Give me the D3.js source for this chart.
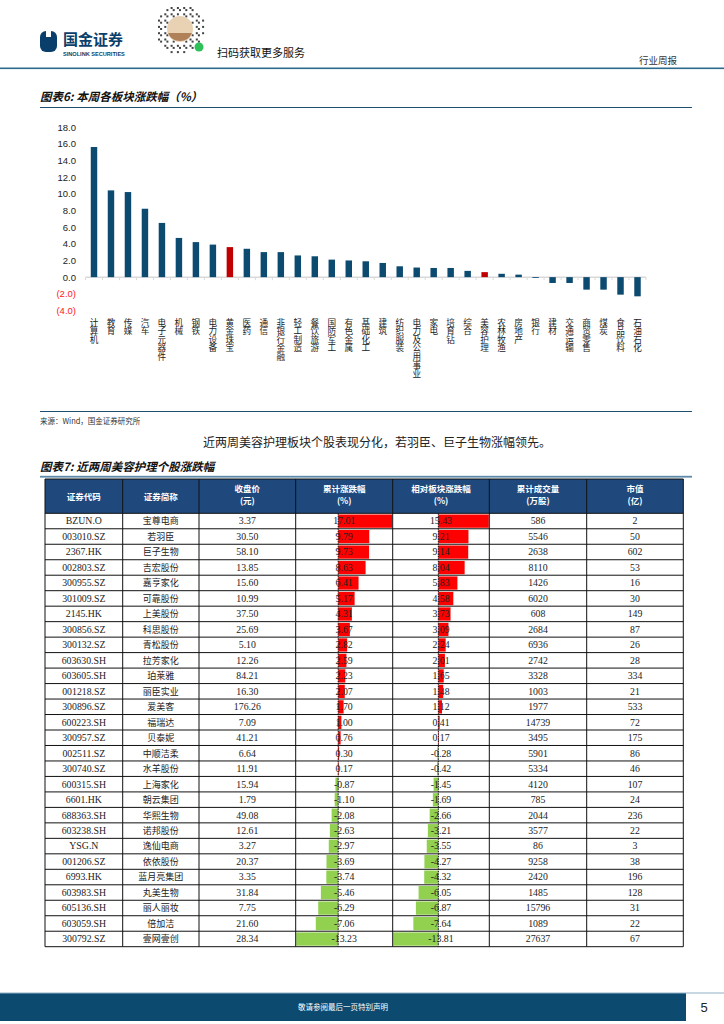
<!DOCTYPE html>
<html>
<head>
<meta charset="utf-8">
<script src="https://cdn.jsdelivr.net/npm/d3@7"></script>
<style>
  body { margin: 0; background: #fff; }
  svg { display: block; }
</style>
</head>
<body>
<svg id="page" width="724" height="1024"></svg>
<script>
// ---- chart 6 data: weekly sector change (%)
var sectors = ["计算机", "教育", "传媒", "汽车", "电子元器件", "机械", "钢铁", "电力设备", "黄金珠宝", "医药",
  "通信", "非银行金融", "轻工制造", "餐饮旅游", "国防军工", "有色金属", "基础化工", "建筑", "纺织服装",
  "电力及公用事业", "家电", "培育钻", "综合", "美容护理", "农林牧渔", "房地产", "银行", "建材", "交通运输",
  "商贸零售", "煤炭", "食品饮料", "石油石化"];
var sectorChg = [15.6, 10.4, 10.2, 8.2, 6.5, 4.7, 4.2, 3.9, 3.6, 3.4,
  3.0, 3.0, 2.6, 2.5, 2.1, 2.0, 1.9, 1.7, 1.3,
  1.15, 1.1, 1.1, 0.75, 0.6, 0.4, 0.3, -0.1, -0.7, -0.7,
  -1.5, -1.5, -2.1, -2.3];
var highlightSectors = ["黄金珠宝", "美容护理"];
var yTicks = [18, 16, 14, 12, 10, 8, 6, 4, 2, 0, -2, -4];

// ---- chart 7 data: beauty care stocks, last two weeks
var tableHead = [["证券代码"], ["证券简称"], ["收盘价", "(元)"], ["累计涨跌幅", "(%)"], ["相对板块涨跌幅", "(%)"], ["累计成交量", "(万股)"], ["市值", "(亿)"]];
var codes = ["BZUN.O", "003010.SZ", "2367.HK", "002803.SZ", "300955.SZ", "301009.SZ", "2145.HK", "300856.SZ", "300132.SZ", "603630.SH",
  "603605.SH", "001218.SZ", "300896.SZ", "600223.SH", "300957.SZ", "002511.SZ", "300740.SZ", "600315.SH", "6601.HK", "688363.SH",
  "603238.SH", "YSG.N", "001206.SZ", "6993.HK", "603983.SH", "605136.SH", "603059.SH", "300792.SZ"];
var names = ["宝尊电商", "若羽臣", "巨子生物", "吉宏股份", "嘉亨家化", "可靠股份", "上美股份", "科思股份", "青松股份", "拉芳家化",
  "珀莱雅", "丽臣实业", "爱美客", "福瑞达", "贝泰妮", "中顺洁柔", "水羊股份", "上海家化", "朝云集团", "华熙生物",
  "诺邦股份", "逸仙电商", "依依股份", "蓝月亮集团", "丸美生物", "丽人丽妆", "倍加洁", "壹网壹创"];
var closePrice = ["3.37", "30.50", "58.10", "13.85", "15.60", "10.99", "37.50", "25.69", "5.10", "12.26",
  "84.21", "16.30", "176.26", "7.09", "41.21", "6.64", "11.91", "15.94", "1.79", "49.08",
  "12.61", "3.27", "20.37", "3.35", "31.84", "7.75", "21.60", "28.34"];
var cumChg = [17.01, 9.79, 9.73, 8.63, 6.41, 5.17, 4.31, 3.67, 2.82, 2.59,
  2.23, 2.07, 1.70, 1.00, 0.76, 0.30, 0.17, -0.87, -1.10, -2.08,
  -2.63, -2.97, -3.69, -3.74, -5.46, -6.29, -7.06, -13.23];
var relChg = [15.43, 9.21, 9.14, 8.04, 5.83, 4.58, 3.73, 3.09, 2.24, 2.01,
  1.65, 1.48, 1.12, 0.41, 0.17, -0.28, -0.42, -1.45, -1.69, -2.66,
  -3.21, -3.55, -4.27, -4.32, -6.05, -6.87, -7.64, -13.81];
var volume = [586, 5546, 2638, 8110, 1426, 6020, 608, 2684, 6936, 2742,
  3328, 1003, 1977, 14739, 3495, 5901, 5334, 4120, 785, 2044,
  3577, 86, 9258, 2420, 1485, 15796, 1089, 27637];
var mktCap = [2, 50, 602, 53, 16, 30, 149, 87, 26, 28,
  334, 21, 533, 72, 175, 86, 46, 107, 24, 236,
  22, 3, 38, 196, 128, 31, 22, 67];

var CJK = "'Noto Sans CJK SC', sans-serif";
var NAVY = "#0c4a70";
var svg = d3.select("#page");

function drawPageHeader() {
  var g = svg.append("g");
  // logo
  g.append("rect").attr("x", 40).attr("y", 31).attr("width", 17).attr("height", 21).attr("rx", 6).style("fill", "#0b3f6b");
  g.append("rect").attr("x", 46).attr("y", 29).attr("width", 5).attr("height", 8).style("fill", "#fff");
  g.append("text").attr("x", 63).attr("y", 45).style("font-family", CJK).style("font-weight", 700)
    .style("font-size", "15px").style("fill", "#0b3f6b").text("国金证券");
  g.append("text").attr("x", 63).attr("y", 56).style("font-family", "'Liberation Sans', sans-serif").style("font-weight", 700)
    .style("font-size", "5.6px").style("fill", "#0b3f6b").text("SINOLINK SECURITIES");

  // qr-ish mark
  var qr = g.append("g").attr("transform", "translate(180,29)");
  var cells = [];
  for (var i = -12; i <= 12; i++) {
    for (var j = -12; j <= 12; j++) {
      var r2 = i * i + j * j;
      if (r2 > 140 || r2 < 45) continue;
      if (((i + 13) * 7 + (j + 13) * 13 + (i + 13) * (j + 13)) % 3 === 0) cells.push([i, j]);
    }
  }
  qr.selectAll("rect").data(cells).enter().append("rect")
    .attr("x", function(d) { return d[0] * 2.1 - 1; })
    .attr("y", function(d) { return d[1] * 2.1 - 1; })
    .attr("width", 2).attr("height", 2).style("fill", "#444");
  qr.append("circle").attr("r", 13).style("fill", "#e9d2b4");
  qr.append("path").attr("d", "M-12,4 A13,13 0 0 0 12,4 Z").style("fill", "#b08158");
  qr.append("circle").attr("cx", 19).attr("cy", 18).attr("r", 4.5).style("fill", "#2ec15a");

  g.append("text").attr("x", 217).attr("y", 57).style("font-family", CJK).style("font-size", "11px")
    .style("fill", "#111").text("扫码获取更多服务");
  g.append("text").attr("x", 639).attr("y", 64).style("font-family", CJK).style("font-size", "9.5px")
    .style("fill", "#333").text("行业周报");
  g.append("rect").attr("x", 0).attr("y", 67.5).attr("width", 724).attr("height", 1.6).style("fill", "#2c6a8c");
}

function drawSectorChart() {
  var g = svg.append("g");
  g.append("text").attr("x", 40).attr("y", 101).style("font-family", CJK).style("font-weight", 700)
    .style("font-style", "italic").style("font-size", "11.5px").style("fill", "#111").text("图表6: 本周各板块涨跌幅（%）");
  g.append("line").attr("x1", 40).attr("x2", 692).attr("y1", 107.5).attr("y2", 107.5)
    .style("stroke", "#1f4e6e").style("stroke-width", 1);

  var x = d3.scaleBand().domain(sectors).range([85.5, 646]).paddingInner(0.62).paddingOuter(0.31);
  var y = d3.scaleLinear().domain([-4, 18]).range([310.5, 127]);

  // y labels
  g.selectAll(".ylab").data(yTicks).enter().append("text")
    .attr("class", "ylab")
    .attr("x", 76).attr("y", function(d) { return y(d) + 3.5; })
    .attr("text-anchor", "end")
    .style("font-family", "'Liberation Sans', Arial, sans-serif").style("font-size", "9.5px")
    .style("fill", function(d) { return d < 0 ? "#ff2020" : "#222"; })
    .text(function(d) { return d < 0 ? "(" + d3.format(".1f")(-d) + ")" : d3.format(".1f")(d); });

  // zero axis with band ticks
  g.append("line").attr("x1", 85.5).attr("x2", 646).attr("y1", y(0)).attr("y2", y(0))
    .style("stroke", "#d9d9d9").style("stroke-width", 1.5);
  var step = x.step();
  g.selectAll(".tk").data(d3.range(sectors.length + 1)).enter().append("line")
    .attr("x1", function(i) { return 85.5 + i * step; })
    .attr("x2", function(i) { return 85.5 + i * step; })
    .attr("y1", y(0)).attr("y2", y(0) + 3)
    .style("stroke", "#d9d9d9").style("stroke-width", 1);

  g.selectAll(".bar").data(sectors).enter().append("rect")
    .attr("class", "bar")
    .attr("x", function(d) { return x(d); })
    .attr("width", x.bandwidth())
    .attr("y", function(d, i) { return y(Math.max(0, sectorChg[i])); })
    .attr("height", function(d, i) { return Math.abs(y(sectorChg[i]) - y(0)); })
    .style("fill", function(d) { return highlightSectors.indexOf(d) >= 0 ? "#c00000" : NAVY; });

  // vertical category labels, upright characters
  g.selectAll(".xlab").data(sectors).enter().append("text")
    .attr("class", "xlab")
    .attr("x", function(d) { return x(d) + x.bandwidth() / 2; })
    .attr("y", 318)
    .style("writing-mode", "vertical-rl")
    .style("text-orientation", "upright")
    .style("font-family", CJK).style("font-size", "8.6px").style("fill", "#222")
    .text(function(d) { return d; });

  g.append("line").attr("x1", 40).attr("x2", 692).attr("y1", 411.5).attr("y2", 411.5)
    .style("stroke", "#1f4e6e").style("stroke-width", 1);
  g.append("text").attr("x", 40).attr("y", 424).style("font-family", CJK).style("font-size", "7.5px")
    .style("fill", "#333").text("来源：Wind，国金证券研究所");
}

function drawStockTable() {
  var g = svg.append("g");
  g.append("text").attr("x", 377).attr("y", 447).attr("text-anchor", "middle").style("font-family", CJK)
    .style("font-size", "12px").style("fill", "#222").text("近两周美容护理板块个股表现分化，若羽臣、巨子生物涨幅领先。");
  g.append("text").attr("x", 40).attr("y", 471).style("font-family", CJK).style("font-weight", 700)
    .style("font-style", "italic").style("font-size", "11.5px").style("fill", "#111").text("图表7: 近两周美容护理个股涨跌幅");
  g.append("rect").attr("x", 40).attr("y", 475.8).attr("width", 652).attr("height", 1.8).style("fill", "#5b8aa8");

  var cols = [45, 122.7, 199, 295.7, 392.7, 489.3, 586.7, 683.3];
  var headTop = 479, headBot = 513.3, tableBot = 946.7;
  var row = d3.scaleBand().domain(d3.range(codes.length)).range([headBot, tableBot]);
  var rh = row.bandwidth();

  // header
  g.append("rect").attr("x", cols[0]).attr("y", headTop).attr("width", cols[7] - cols[0]).attr("height", headBot - headTop)
    .style("fill", "#1f497d");
  tableHead.forEach(function(lines, c) {
    var cx = (cols[c] + cols[c + 1]) / 2;
    lines.forEach(function(s, k) {
      g.append("text").attr("x", cx)
        .attr("y", lines.length === 1 ? (headTop + headBot) / 2 + 3.5 : headTop + 12.5 + k * 12)
        .attr("text-anchor", "middle").style("font-family", CJK).style("font-weight", 700)
        .style("font-size", "8.5px").style("fill", "#fff").text(s);
    });
  });

  // data bars
  function barColumn(vals, c) {
    var bx = d3.scaleLinear().domain([d3.min(vals), d3.max(vals)]).range([cols[c] + 0.5, cols[c + 1] - 0.5]);
    g.selectAll(".b" + c).data(vals).enter().append("rect")
      .attr("x", function(d) { return Math.min(bx(0), bx(d)); })
      .attr("width", function(d) { return Math.abs(bx(d) - bx(0)); })
      .attr("y", function(d, i) { return row(i) + 1.2; })
      .attr("height", rh - 2.2)
      .style("fill", function(d) { return d >= 0 ? "#ff0000" : "#92d050"; });
    g.append("line").attr("x1", bx(0)).attr("x2", bx(0)).attr("y1", headBot).attr("y2", tableBot)
      .style("stroke", "#111").style("stroke-width", 1).style("stroke-dasharray", "1.5,1");
  }
  barColumn(cumChg, 3);
  barColumn(relChg, 4);

  function fix2(d) { return d.toFixed(2); }
  var cellText = [codes, names, closePrice, cumChg.map(fix2), relChg.map(fix2), volume, mktCap];
  cellText.forEach(function(arr, c) {
    var cx = (cols[c] + cols[c + 1]) / 2;
    g.selectAll(".t" + c).data(arr).enter().append("text")
      .attr("x", cx).attr("y", function(d, i) { return row(i) + rh / 2 + 3.4; })
      .attr("text-anchor", "middle")
      .style("font-family", c === 1 ? CJK : "'Liberation Serif', serif")
      .style("font-size", c === 1 ? "9px" : "9.8px")
      .style("fill", "#222")
      .text(function(d) { return d; });
  });

  // grid lines
  g.selectAll(".hl").data(d3.range(codes.length + 1)).enter().append("line")
    .attr("x1", cols[0]).attr("x2", cols[7])
    .attr("y1", function(i) { return headBot + i * rh; })
    .attr("y2", function(i) { return headBot + i * rh; })
    .style("stroke", "#111").style("stroke-width", 1);
  g.selectAll(".vl").data(cols).enter().append("line")
    .attr("x1", function(d) { return d; }).attr("x2", function(d) { return d; })
    .attr("y1", headTop).attr("y2", tableBot)
    .style("stroke", "#111").style("stroke-width", 1);
  g.append("line").attr("x1", cols[0]).attr("x2", cols[7]).attr("y1", headTop).attr("y2", headTop)
    .style("stroke", "#111").style("stroke-width", 1);
}

function drawFooter() {
  var g = svg.append("g");
  g.append("rect").attr("x", 0).attr("y", 993).attr("width", 686).attr("height", 28).style("fill", "#0c4a70");
  g.append("line").attr("x1", 0).attr("x2", 724).attr("y1", 993).attr("y2", 993).style("stroke", "#8fb1c6").style("stroke-width", 1);
  g.append("text").attr("x", 343).attr("y", 1010).attr("text-anchor", "middle").style("font-family", CJK)
    .style("font-size", "7.5px").style("fill", "#fff").text("敬请参阅最后一页特别声明");
  g.append("text").attr("x", 704).attr("y", 1012).attr("text-anchor", "middle")
    .style("font-family", "'Liberation Sans', sans-serif").style("font-size", "13px").style("fill", "#222").text("5");
}

drawPageHeader();
drawSectorChart();
drawStockTable();
drawFooter();
</script>
</body>
</html>
